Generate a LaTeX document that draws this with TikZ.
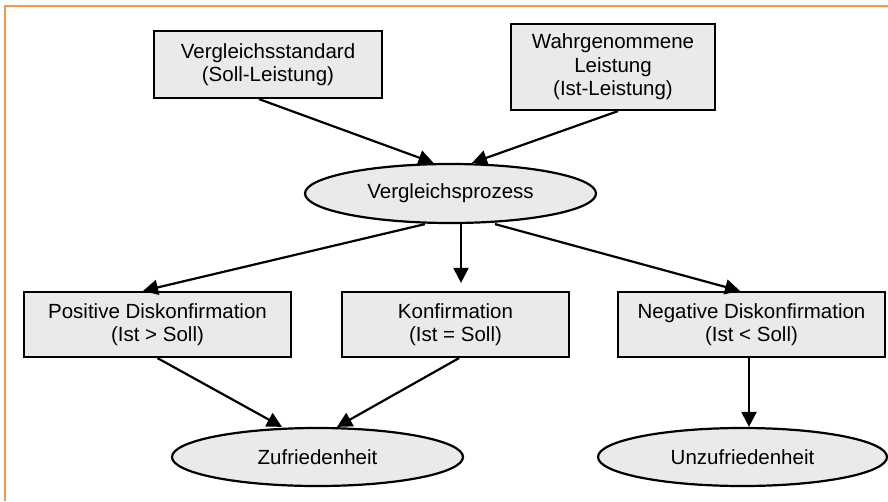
\documentclass[tikz,border=0pt]{standalone}
\usepackage{fontspec}
\setmainfont{Liberation Sans}
\usetikzlibrary{shapes.geometric,arrows.meta}
\definecolor{frameorange}{RGB}{247,150,70}
\definecolor{boxgray}{RGB}{234,234,234}
\tikzset{
  rbox/.style={draw=black, fill=boxgray, line width=2.2pt, rectangle, inner sep=0pt, align=center,
    font=\fontsize{20.5}{23.5}\selectfont},
  ebox/.style={draw=black, fill=boxgray, line width=2.2pt, ellipse, inner sep=0pt, align=center,
    font=\fontsize{20.5}{23.5}\selectfont},
  conn/.style={line width=2.2pt, -{Triangle[length=15pt,width=15pt]}},
}
\begin{document}
\begin{tikzpicture}[x=1pt,y=-1pt]
\useasboundingbox (0,0) rectangle (888,501);
\draw[frameorange, line width=1.5pt] (5,501) -- (5,6) -- (888,6);

\node[rbox, minimum width=228pt, minimum height=67pt] (b1) at (268,64.5) {Vergleichsstandard\\(Soll-Leistung)};
\node[rbox, minimum width=204pt, minimum height=86pt] (b2) at (613,67) {Wahrgenommene\\Leistung\\(Ist-Leistung)};
\node[ebox, minimum width=291pt, minimum height=59pt] (vp) at (450.5,193.5) {Vergleichsprozess};
\node[rbox, minimum width=267pt, minimum height=65pt] (pos) at (157.5,324.5) {Positive Diskonfirmation\\(Ist > Soll)};
\node[rbox, minimum width=227pt, minimum height=65pt] (kon) at (455.5,324.5) {Konfirmation\\(Ist = Soll)};
\node[rbox, minimum width=267pt, minimum height=65pt] (neg) at (751.5,324.5) {Negative Diskonfirmation\\(Ist < Soll)};
\node[ebox, minimum width=291pt, minimum height=58pt] (zuf) at (317.5,457) {Zufriedenheit};
\node[ebox, minimum width=289pt, minimum height=58pt] (unz) at (742.5,457) {Unzufriedenheit};

\draw[conn] ([xshift=-9pt]b1.south) -- ([xshift=-17pt]vp.north);
\draw[conn] ([xshift=5pt]b2.south) -- ([xshift=21.5pt]vp.north);
\draw[conn] ([xshift=-25.5pt]vp.south) -- ([xshift=-14.5pt]pos.north);
\draw[conn, shorten >=8pt] ([xshift=10.5pt]vp.south) -- ([xshift=5.5pt]kon.north);
\draw[conn] ([xshift=44.5pt]vp.south) -- ([xshift=-11.5pt]neg.north);
\draw[conn] (pos.south) -- ([xshift=-35.5pt]zuf.north);
\draw[conn] ([xshift=3.5pt]kon.south) -- ([xshift=19.5pt]zuf.north);
\draw[conn] ([xshift=-2.5pt]neg.south) -- ([xshift=6.5pt]unz.north);
\end{tikzpicture}
\end{document}
